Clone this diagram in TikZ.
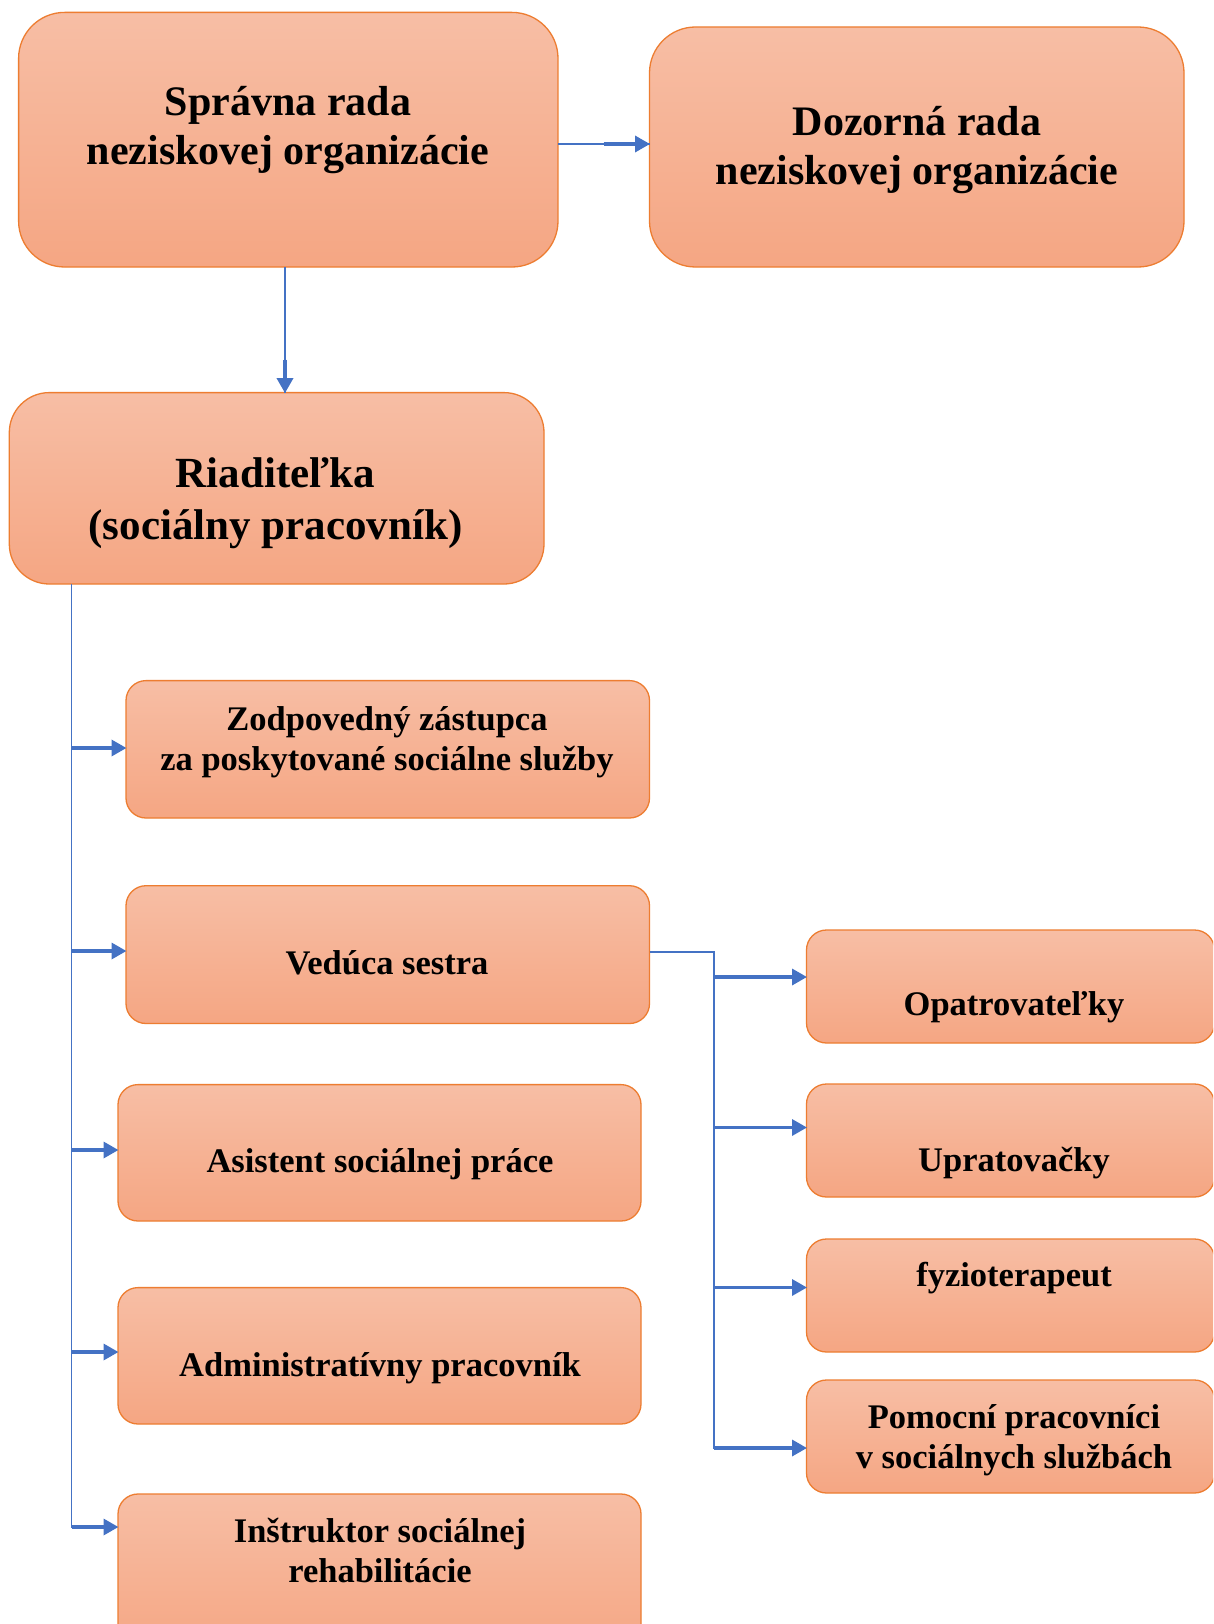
\documentclass[tikz,border=0pt]{standalone}
\usepackage{fontspec}
\setmainfont{Liberation Serif}
\usetikzlibrary{arrows.meta,calc}
\definecolor{boxtop}{HTML}{F7BEA5}
\definecolor{boxbot}{HTML}{F5A683}
\definecolor{boxline}{HTML}{ED7D31}
\definecolor{conn}{HTML}{4472C4}
\newcommand\mylines[2]{\vtop{\baselineskip=#1\halign{\hfil##\hfil\cr #2\crcr}}}
\tikzset{
  orgbox/.style={rectangle, draw=boxline, line width=1.3pt, top color=boxtop, bottom color=boxbot, inner sep=0pt, outer sep=0pt, anchor=north west},
  bigbox/.style={orgbox, rounded corners=46pt},
  midbox/.style={orgbox, rounded corners=40pt},
  smallbox/.style={orgbox, rounded corners=20pt},
  bigtxt/.style={anchor=base, inner sep=0pt, font=\fontsize{42}{48.7}\selectfont\bfseries},
  midtxt/.style={anchor=base, inner sep=0pt, font=\fontsize{43}{52}\selectfont\bfseries},
  smalltxt/.style={anchor=base, inner sep=0pt, font=\fontsize{34.5}{40.4}\selectfont\bfseries},
  thinl/.style={draw=conn, line width=1.6pt},
  arr/.style={draw=conn, line width=3.4pt, -{Triangle[length=15pt,width=16pt]}, shorten >=-0.5pt},
}
\begin{document}
\begin{tikzpicture}[x=1pt,y=-1pt]
\useasboundingbox (0,0) rectangle (1213,1624);
\clip (0,0) rectangle (1213,1624);
\fill[white] (0,0) rectangle (1213,1624);
% boxes
\node[bigbox, minimum width=539.4pt, minimum height=254.6pt] (A) at (18.6,12.4) {};
\node[bigbox, minimum width=534.5pt, minimum height=240pt] (B) at (649.5,27) {};
\node[midbox, minimum width=534.7pt, minimum height=191.4pt] (C) at (9.3,392.6) {};
\node[smallbox, minimum width=523.5pt, minimum height=137.4pt] (D) at (126,680.6) {};
\node[smallbox, minimum width=523.5pt, minimum height=137.8pt] (E) at (126,885.7) {};
\node[smallbox, minimum width=523pt, minimum height=136.4pt] (F) at (118,1084.6) {};
\node[smallbox, minimum width=523pt, minimum height=136.4pt] (G) at (118,1287.6) {};
\node[smallbox, minimum width=523pt, minimum height=160pt] (H) at (118,1494) {};
\node[smallbox, minimum width=408pt, minimum height=113pt] (I) at (806.5,930) {};
\node[smallbox, minimum width=408pt, minimum height=113pt] (J) at (806.5,1084) {};
\node[smallbox, minimum width=408pt, minimum height=113pt] (K) at (806.5,1239) {};
\node[smallbox, minimum width=408pt, minimum height=113pt] (L) at (806.5,1380) {};
% texts
\node[bigtxt] (At) at (288,116) {\mylines{48.7pt}{Správna rada\cr neziskovej organizácie}};
\node[bigtxt] (Bt) at (917,135.5) {\mylines{48.7pt}{Dozorná rada\cr neziskovej organizácie}};
\node[midtxt] (Ct) at (275.6,487) {\mylines{52pt}{Riaditeľka\cr (sociálny pracovník)}};
\node[smalltxt] (Dt) at (387,730) {\mylines{40.4pt}{Zodpovedný zástupca\cr za poskytované sociálne služby}};
\node[smalltxt] (Et) at (387,974) {Vedúca sestra};
\node[smalltxt] (Ft) at (380,1172) {Asistent sociálnej práce};
\node[smalltxt] (Gt) at (380,1376) {Administratívny pracovník};
\node[smalltxt] (Ht) at (380,1542) {\mylines{40.4pt}{Inštruktor sociálnej\cr rehabilitácie}};
\node[smalltxt] (It) at (1014,1015) {Opatrovateľky};
\node[smalltxt] (Jt) at (1014,1171) {Upratovačky};
\node[smalltxt] (Kt) at (1014,1286) {fyzioterapeut};
\node[smalltxt] (Lt) at (1014,1428) {\mylines{40.4pt}{Pomocní pracovníci\cr v sociálnych službách}};
% connector helpers
\coordinate (ab) at (0,144);
\coordinate (acx) at (285,0);
\coordinate (tx) at (71.5,0);
\coordinate (rx) at (714,0);
\coordinate (ey) at (0,951.7);
% A -> B
\draw[thinl] (A.east |- ab) -- (B.west |- ab);
\draw[arr] ($(B.west |- ab)+(-46,0)$) -- (B.west |- ab);
% A -> C
\draw[thinl] (A.south -| acx) -- (C.north -| acx);
\draw[arr] ($(C.north -| acx)+(0,-33)$) -- (C.north -| acx);
% trunk from C
\draw[thinl] (C.south -| tx) -- (tx |- 0,1527.5);
\draw[arr] (tx |- 0,748) -- (D.west |- 0,748);
\draw[arr] (tx |- 0,951) -- (E.west |- 0,951);
\draw[arr] (tx |- 0,1150) -- (F.west |- 0,1150);
\draw[arr] (tx |- 0,1352) -- (G.west |- 0,1352);
\draw[arr] (tx |- 0,1527) -- (H.west |- 0,1527);
% branch from E
\draw[thinl] (E.east |- ey) -| (rx |- 0,1448.5);
\draw[arr] (rx |- 0,977) -- (I.west |- 0,977);
\draw[arr] (rx |- 0,1127.5) -- (J.west |- 0,1127.5);
\draw[arr] (rx |- 0,1287.5) -- (K.west |- 0,1287.5);
\draw[arr] (rx |- 0,1448) -- (L.west |- 0,1448);
\end{tikzpicture}
\end{document}
